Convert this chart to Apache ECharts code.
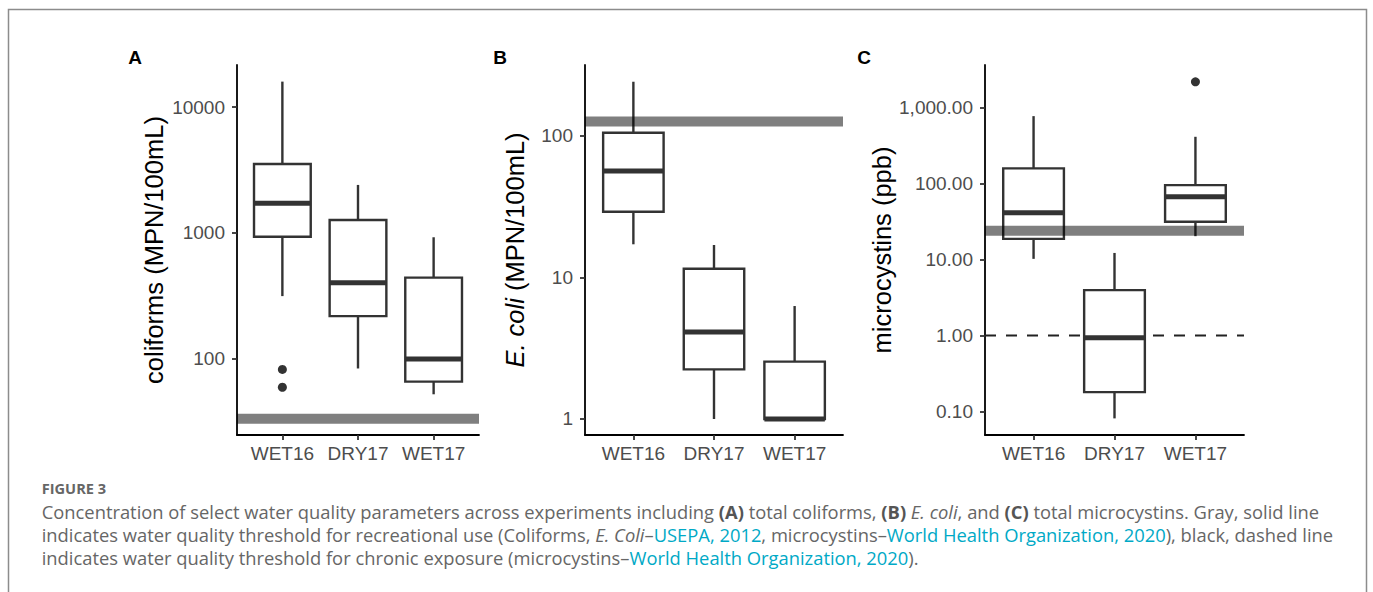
<!DOCTYPE html>
<html><head><meta charset="utf-8">
<script src="https://cdn.jsdelivr.net/npm/echarts@6/dist/echarts.min.js"></script>
<style>html,body{margin:0;padding:0;background:#fff}#c{width:1373px;height:592px}</style>
</head><body><div id="c"></div>
<script>
// ---------------- data ----------------
const categories = ['WET16', 'DRY17', 'WET17'];
// box stats per category: [min, Q1, median, Q3, max]
const coliformBoxes = [[313, 931, 1718, 3535, 16000], [83, 217, 400, 1264, 2405], [51.7, 65.2, 98.7, 439, 921]];
const coliformOutliers = [[1, 81.6], [1, 58.8]];
const coliformThreshold = 33;
const coliformTicks = [100, 1000, 10000];
const coliformTickLabels = ['100', '1000', '10000'];

const ecoliBoxes = [[17.1, 29, 56.3, 104.8, 240], [1.0, 2.24, 4.11, 11.5, 16.9], [1, 1, 1, 2.54, 6.27]];
const ecoliOutliers = [];
const ecoliThreshold = 126;
const ecoliTicks = [1, 10, 100];
const ecoliTickLabels = ['1', '10', '100'];

const mcBoxes = [[10.2, 18.7, 41.2, 158.6, 775], [0.0806, 0.179, 0.93, 3.95, 12.2], [20.3, 31.4, 67, 95.5, 414]];
const mcOutliers = [[3, 2193]];
const mcThreshold = 24;
const mcChronic = 1;
const mcTicks = [0.1, 1, 10, 100, 1000];
const mcTickLabels = ['0.10', '1.00', '10.00', '100.00', '1,000.00'];

// ---------------- styling / layout ----------------
const FONT = '"Liberation Sans", Arial, Helvetica, sans-serif';
const CAPFONT = '"Open Sans", Lato, sans-serif';
const CAPSIZE = 18.35;
const INK = '#333333';
const BOX_W = 0.75;
const X_MIN = 0.4, X_MAX = 3.6;

const panels = [
  { left: 237, width: 242, yMin: 24.5, yMax: 21700, boxes: coliformBoxes, outliers: coliformOutliers,
    thr: coliformThreshold, ticks: coliformTicks, labels: coliformTickLabels,
    name: 'coliforms (MPN/100mL)', nameGap: 70 },
  { left: 585, width: 258, yMin: 0.771, yMax: 315, boxes: ecoliBoxes, outliers: ecoliOutliers,
    thr: ecoliThreshold, ticks: ecoliTicks, labels: ecoliTickLabels,
    name: '{i|E. coli} (MPN/100mL)', nameGap: 57 },
  { left: 985, width: 259, yMin: 0.0487, yMax: 3656, boxes: mcBoxes, outliers: mcOutliers,
    thr: mcThreshold, ticks: mcTicks, labels: mcTickLabels,
    name: 'microcystins (ppb)', nameGap: 90, chronic: mcChronic }
];

function renderBox(params, api) {
  const x = api.value(0);
  const lo = api.coord([x, api.value(1)]);
  const q1 = api.coord([x, api.value(2)]);
  const md = api.coord([x, api.value(3)]);
  const q3 = api.coord([x, api.value(4)]);
  const hi = api.coord([x, api.value(5)]);
  const xl = api.coord([x - BOX_W / 2, api.value(3)])[0];
  const xr = api.coord([x + BOX_W / 2, api.value(3)])[0];
  const ls = { stroke: INK, lineWidth: 2.4 };
  return {
    type: 'group',
    children: [
      { type: 'line', shape: { x1: lo[0], y1: lo[1], x2: q1[0], y2: q1[1] }, style: ls },
      { type: 'line', shape: { x1: q3[0], y1: q3[1], x2: hi[0], y2: hi[1] }, style: ls },
      { type: 'rect', shape: { x: xl, y: q3[1], width: xr - xl, height: q1[1] - q3[1] },
        style: { fill: '#ffffff', stroke: INK, lineWidth: 2.4 } },
      { type: 'line', shape: { x1: xl, y1: md[1], x2: xr, y2: md[1] }, style: { stroke: INK, lineWidth: 5 } }
    ]
  };
}

const grid = [], xAxis = [], yAxis = [], series = [];
panels.forEach((p, i) => {
  grid.push({ left: p.left, top: 65, width: p.width, height: 370 });
  xAxis.push({
    type: 'value', gridIndex: i, min: X_MIN, max: X_MAX,
    splitLine: { show: false },
    axisLine: { show: true, onZero: false, lineStyle: { color: '#000', width: 1.8 } },
    axisTick: { show: true, customValues: [1, 2, 3], length: 5, lineStyle: { color: INK, width: 1.8 } },
    axisLabel: { customValues: [1, 2, 3], formatter: v => categories[Math.round(v) - 1],
      fontSize: 19, color: '#4d4d4d', fontFamily: FONT, margin: 9 }
  });
  yAxis.push({
    type: 'log', gridIndex: i, min: p.yMin, max: p.yMax, logBase: 10,
    splitLine: { show: false }, minorSplitLine: { show: false },
    axisLine: { show: true, onZero: false, lineStyle: { color: '#000', width: 1.8 } },
    axisTick: { show: true, customValues: p.ticks, length: 5, lineStyle: { color: INK, width: 1.8 } },
    axisLabel: { customValues: p.ticks,
      formatter: v => {
        const k = p.ticks.findIndex(t => Math.abs(Math.log10(t) - Math.log10(v)) < 1e-6);
        return k >= 0 ? p.labels[k] : '';
      },
      fontSize: 19, color: '#4d4d4d', fontFamily: FONT, margin: 12 },
    name: p.name, nameLocation: 'middle', nameRotate: 90, nameGap: p.nameGap,
    nameTextStyle: { fontSize: 25.5, color: '#000', fontFamily: FONT,
      rich: { i: { fontStyle: 'italic', fontSize: 25.5, color: '#000', fontFamily: FONT } } }
  });
  if (p.chronic !== undefined) {
    series.push({
      type: 'line', xAxisIndex: i, yAxisIndex: i, z: 1, silent: true, symbol: 'none',
      data: [[X_MIN, p.chronic], [X_MAX, p.chronic]],
      lineStyle: { color: '#222', width: 2, type: [11, 10] }
    });
  }
  series.push({
    type: 'custom', xAxisIndex: i, yAxisIndex: i, z: 2, silent: true,
    renderItem: renderBox,
    encode: { x: 0, y: [1, 2, 3, 4, 5] },
    data: p.boxes.map((b, k) => [k + 1].concat(b))
  });
  series.push({
    type: 'scatter', xAxisIndex: i, yAxisIndex: i, z: 3, silent: true,
    symbolSize: 9, itemStyle: { color: INK, opacity: 1 }, data: p.outliers
  });
  series.push({
    type: 'line', xAxisIndex: i, yAxisIndex: i, z: 4, silent: true, symbol: 'none',
    data: [[X_MIN, p.thr], [X_MAX, p.thr]],
    lineStyle: { color: 'rgba(0,0,0,0.5)', width: 10, cap: 'butt' }
  });
});

const capBase = { fontFamily: CAPFONT, fontSize: CAPSIZE, fill: '#666666' };
const capRich = {
  b: { fontFamily: CAPFONT, fontSize: CAPSIZE, fontWeight: 'bold', fill: '#555555' },
  i: { fontFamily: CAPFONT, fontSize: CAPSIZE, fontStyle: 'italic', fill: '#666666' },
  l: { fontFamily: CAPFONT, fontSize: CAPSIZE, fill: '#00a9c6' }
};
const captionLines = [
  'Concentration of select water quality parameters across experiments including {b|(A)} total coliforms, {b|(B)} {i|E. coli}, and {b|(C)} total microcystins. Gray, solid line',
  'indicates water quality threshold for recreational use (Coliforms, {i|E. Coli}–{l|USEPA, 2012}, microcystins–{l|World Health Organization, 2020}), black, dashed line',
  'indicates water quality threshold for chronic exposure (microcystins–{l|World Health Organization, 2020}).'
];
const captionY = [511.7, 534.5, 557.5];

const graphic = [
  { type: 'rect', silent: true, shape: { x: 8.5, y: 9.5, width: 1358, height: 620 },
    style: { fill: 'none', stroke: '#8c8c8c', lineWidth: 1.5 } },
  { type: 'text', x: 135, y: 57, style: { text: 'A', font: 'bold 19px ' + FONT, fill: '#000', textAlign: 'center', textVerticalAlign: 'middle' } },
  { type: 'text', x: 500, y: 57, style: { text: 'B', font: 'bold 19px ' + FONT, fill: '#000', textAlign: 'center', textVerticalAlign: 'middle' } },
  { type: 'text', x: 864, y: 57, style: { text: 'C', font: 'bold 19px ' + FONT, fill: '#000', textAlign: 'center', textVerticalAlign: 'middle' } },
  { type: 'text', x: 41.7, y: 488, style: { text: 'FIGURE 3', fontFamily: CAPFONT, fontSize: 14.6, fontWeight: 'bold', fill: '#666666', textVerticalAlign: 'middle' } }
].concat(captionLines.map((t, k) => ({
  type: 'text', x: 41.7, y: captionY[k],
  style: Object.assign({ text: t, rich: capRich, textVerticalAlign: 'middle' }, capBase)
})));

const chart = echarts.init(document.getElementById('c'), null, { renderer: 'svg', width: 1373, height: 592 });
chart.setOption({
  animation: false,
  backgroundColor: '#ffffff',
  grid, xAxis, yAxis, series, graphic
});
</script>
</body></html>
